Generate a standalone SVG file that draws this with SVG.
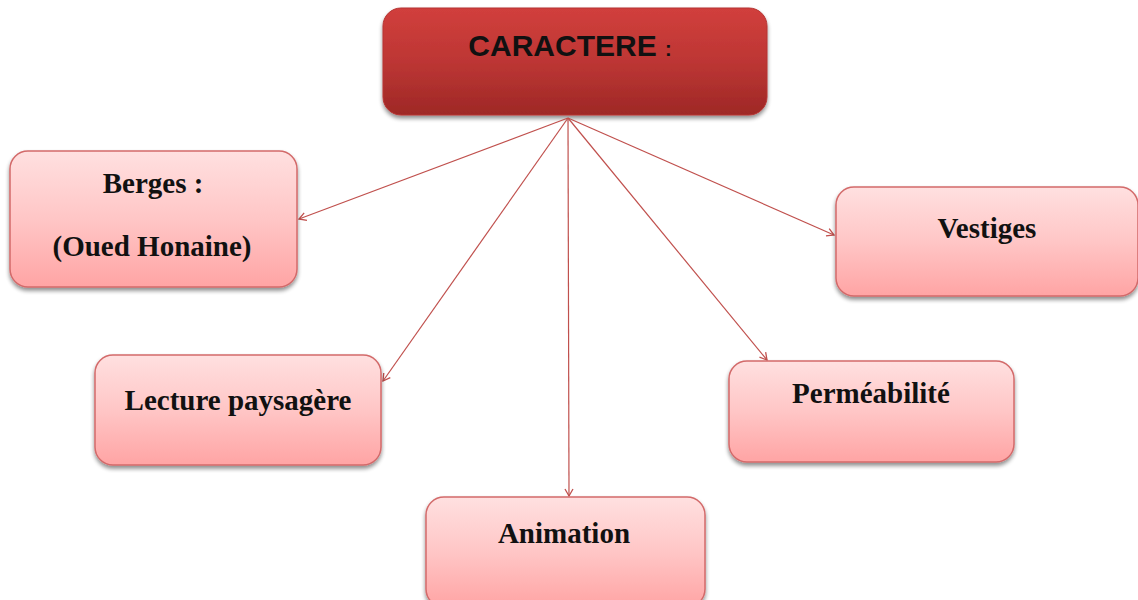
<svg xmlns="http://www.w3.org/2000/svg" width="1138" height="600" viewBox="0 0 1138 600">
<defs>
<linearGradient id="gTop" x1="0" y1="0" x2="0" y2="1">
<stop offset="0" stop-color="#d13f3c"/>
<stop offset="0.5" stop-color="#bd3634"/>
<stop offset="1" stop-color="#9e2826"/>
</linearGradient>
<linearGradient id="gNode" x1="0" y1="0" x2="0" y2="1">
<stop offset="0" stop-color="#ffe0e0"/>
<stop offset="0.5" stop-color="#ffc6c6"/>
<stop offset="1" stop-color="#ffa4a4"/>
</linearGradient>
<filter id="sh" x="-10%" y="-10%" width="120%" height="130%">
<feGaussianBlur in="SourceAlpha" stdDeviation="2"/>
<feOffset dx="0" dy="3" result="b"/>
<feComponentTransfer><feFuncA type="linear" slope="0.45"/></feComponentTransfer>
<feMerge><feMergeNode/><feMergeNode in="SourceGraphic"/></feMerge>
</filter>
<marker id="arr" markerWidth="10" markerHeight="10" refX="8" refY="5" orient="auto" markerUnits="userSpaceOnUse">
<path d="M1,1 L8,5 L1,9" fill="none" stroke="#c0504d" stroke-width="1.3"/>
</marker>
</defs>
<style>
.node rect{fill:url(#gNode);stroke:#d36a6a;stroke-width:1.5;filter:url(#sh)}
.lbl{font-family:"Liberation Serif",serif;font-weight:bold;font-size:29px;fill:#111;text-anchor:middle}
.con line{stroke:#c0504d;stroke-width:1.2;marker-end:url(#arr)}
</style>
<rect width="1138" height="600" fill="#fff"/>
<g id="caractere">
<rect x="383" y="8" width="384" height="107" rx="18" fill="url(#gTop)" stroke="#b53432" stroke-width="1" filter="url(#sh)"/>
<text x="570" y="56" font-family="'Liberation Sans',sans-serif" font-weight="bold" font-size="30" fill="#111" text-anchor="middle">CARACTERE <tspan font-size="20">:</tspan></text>
</g>
<g class="con" id="connectors">
<line x1="568" y1="118" x2="299" y2="219"/>
<line x1="568" y1="118" x2="383" y2="381"/>
<line x1="568" y1="118" x2="569" y2="496"/>
<line x1="568" y1="118" x2="767" y2="360"/>
<line x1="568" y1="118" x2="834" y2="235"/>
</g>
<g class="node" id="berges">
<rect x="10" y="151" width="287" height="136" rx="18"/>
<text class="lbl" x="153" y="193">Berges :</text>
<text class="lbl" x="152" y="256">(Oued Honaine)</text>
</g>
<g class="node" id="vestiges">
<rect x="836" y="187" width="302" height="109" rx="18"/>
<text class="lbl" x="987" y="238">Vestiges</text>
</g>
<g class="node" id="lecture">
<rect x="95" y="355" width="286" height="110" rx="18"/>
<text class="lbl" x="238" y="410">Lecture paysagère</text>
</g>
<g class="node" id="permeabilite">
<rect x="729" y="361" width="285" height="101" rx="18"/>
<text class="lbl" x="871" y="403">Perméabilité</text>
</g>
<g class="node" id="animation">
<rect x="426" y="497" width="279" height="110" rx="18"/>
<text class="lbl" x="564" y="543">Animation</text>
</g>
</svg>
